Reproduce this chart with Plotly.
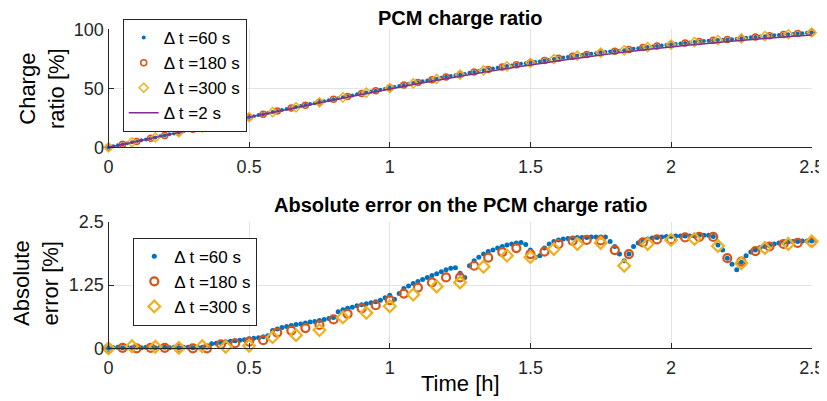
import plotly.graph_objects as go

# sample times (minutes -> hours) for each time step
t_60 = [m / 60 for m in range(0, 151)]
t_180 = [m / 60 for m in range(0, 151, 3)]
t_300 = [m / 60 for m in range(0, 151, 5)]

# reference solution (dt = 2 s), read every 0.1 h
t_ref = [0.0, 0.1, 0.2, 0.3, 0.4, 0.5, 0.6, 0.7, 0.8, 0.9, 1.0, 1.1, 1.2,
         1.3, 1.4, 1.5, 1.6, 1.7, 1.8, 1.9, 2.0, 2.1, 2.2, 2.3, 2.4, 2.5]
charge_ref = [0.0, 5.0, 10.1, 15.2, 20.3, 25.4, 30.4, 35.3, 40.1, 44.8, 49.4,
              53.8, 58.1, 62.2, 66.1, 69.8, 73.3, 76.6, 79.6, 82.4, 85.0,
              87.4, 89.6, 91.6, 93.4, 95.2]

# charge ratio [%]
charge_60 = [0.0, 0.8, 1.7, 2.5, 3.4, 4.2, 5.0, 5.9, 6.7, 7.6, 8.4, 9.3, 10.1,
             11.0, 11.8, 12.7, 13.5, 14.4, 15.2, 16.1, 16.9, 17.8, 18.7, 19.6,
             20.4, 21.3, 22.1, 23.0, 23.9, 24.7, 25.6, 26.4, 27.3, 28.1, 29.0,
             29.9, 30.8, 31.6, 32.5, 33.3, 34.1, 35.0, 35.8, 36.6, 37.4, 38.3,
             39.1, 39.9, 40.7, 41.6, 42.4, 43.2, 44.0, 44.9, 45.7, 46.5, 47.2,
             48.0, 48.8, 49.6, 50.5, 51.1, 52.0, 52.8, 53.6, 54.4, 55.1, 55.9,
             56.6, 57.4, 58.1, 58.9, 59.7, 60.4, 61.1, 61.6, 62.2, 63.2, 63.9,
             64.7, 65.4, 66.1, 66.7, 67.4, 68.1, 68.8, 69.4, 70.0, 70.7, 71.2,
             71.7, 72.2, 72.8, 73.5, 74.2, 74.8, 75.4, 76.0, 76.6, 77.1, 77.7,
             78.2, 78.8, 79.3, 79.8, 80.3, 80.8, 81.2, 81.6, 81.9, 82.3, 82.9,
             83.5, 84.0, 84.5, 85.0, 85.5, 85.9, 86.3, 86.8, 87.2, 87.6, 88.0,
             88.4, 88.8, 89.2, 89.6, 90.0, 90.4, 90.7, 90.9, 91.2, 91.4, 91.6,
             91.8, 92.3, 92.8, 93.2, 93.5, 93.9, 94.2, 94.5, 94.9, 95.2, 95.5,
             95.8, 96.1, 96.4, 96.7, 97.0, 97.3]
charge_180 = [0.0, 2.5, 5.0, 7.6, 10.1, 12.7, 15.2, 17.8, 20.4, 23.0, 25.5,
              28.1, 30.7, 33.2, 35.7, 38.2, 40.7, 43.1, 45.6, 48.0, 50.4, 52.7,
              55.0, 57.3, 59.5, 61.6, 63.8, 65.9, 68.0, 69.9, 71.7, 73.5, 75.4,
              77.1, 78.7, 80.2, 81.5, 82.9, 84.5, 85.9, 87.2, 88.4, 89.6, 90.7,
              91.4, 92.3, 93.5, 94.5, 95.5, 96.4, 97.3]
charge_300 = [0.0, 4.2, 8.4, 12.7, 16.9, 21.2, 25.5, 29.8, 33.9, 38.1, 42.3,
              46.3, 50.2, 54.1, 57.9, 61.5, 65.1, 68.6, 71.6, 74.7, 77.6, 80.2,
              82.2, 84.9, 87.1, 89.2, 90.9, 92.3, 94.2, 95.8, 97.3]

# absolute error [%]
err_60 = [0.00, 0.01, 0.02, 0.01, 0.02, 0.01, 0.02, 0.01, 0.02, 0.02, 0.01,
          0.02, 0.02, 0.01, 0.02, 0.01, 0.02, 0.02, 0.01, 0.02, 0.02, 0.02,
          0.09, 0.10, 0.11, 0.13, 0.14, 0.15, 0.16, 0.17, 0.19, 0.20, 0.21,
          0.23, 0.25, 0.35, 0.38, 0.41, 0.43, 0.45, 0.47, 0.48, 0.50, 0.52,
          0.53, 0.55, 0.57, 0.59, 0.61, 0.72, 0.76, 0.79, 0.81, 0.84, 0.86,
          0.88, 0.90, 0.92, 0.95, 1.00, 1.05, 0.97, 1.08, 1.18, 1.23, 1.28,
          1.32, 1.36, 1.40, 1.44, 1.47, 1.51, 1.55, 1.58, 1.59, 1.48, 1.40,
          1.63, 1.73, 1.80, 1.86, 1.91, 1.94, 1.98, 2.01, 2.04, 2.06, 2.08,
          2.09, 2.05, 1.94, 1.80, 1.83, 1.98, 2.06, 2.11, 2.14, 2.16, 2.17,
          2.18, 2.19, 2.19, 2.19, 2.20, 2.20, 2.20, 2.20, 2.11, 2.01, 1.86,
          1.73, 1.86, 2.01, 2.08, 2.12, 2.16, 2.18, 2.19, 2.20, 2.21, 2.21,
          2.22, 2.22, 2.22, 2.22, 2.22, 2.23, 2.23, 2.23, 2.21, 2.04, 1.94,
          1.78, 1.66, 1.55, 1.70, 1.83, 1.90, 1.94, 1.99, 2.01, 2.03, 2.06,
          2.08, 2.09, 2.10, 2.11, 2.11, 2.12, 2.12, 2.12]
err_180 = [0.00, 0.01, 0.00, 0.01, 0.01, 0.01, 0.00, 0.00, 0.08, 0.10, 0.13,
           0.16, 0.31, 0.35, 0.40, 0.46, 0.57, 0.68, 0.79, 0.85, 0.95, 1.08,
           1.20, 1.30, 1.40, 1.40, 1.63, 1.79, 1.90, 1.98, 1.86, 1.91, 2.06,
           2.12, 2.14, 2.13, 1.94, 1.86, 2.09, 2.15, 2.15, 2.19, 2.20, 2.20,
           1.78, 1.71, 1.92, 2.01, 2.06, 2.08, 2.10]
err_300 = [0.00, 0.04, 0.03, 0.01, 0.04, 0.03, 0.05, 0.22, 0.26, 0.36, 0.61,
           0.70, 0.83, 1.06, 1.22, 1.30, 1.61, 1.83, 1.80, 1.96, 2.06, 2.08,
           1.63, 2.06, 2.14, 2.16, 2.02, 1.68, 1.98, 2.06, 2.11]

x_ticks = [0, 0.5, 1, 1.5, 2, 2.5]
x_labels = ['0', '0.5', '1', '1.5', '2', '2.5']

FONT = 'Liberation Sans, Arial, Helvetica, sans-serif'
BLUE, ORANGE, YELLOW, PURPLE = '#0072BD', '#D95319', '#EDB120', '#7E2F8E'

# the page body has an 8px margin, so the figure is drawn 8px in from the
# window corner; size it to fill the rest of the 827x401 window
W, H, OFF = 827, 401, 8
FW, FH = W - OFF, H - OFF


def px(sx):
    return (sx - OFF) / FW


def py(sy):
    return (H - sy) / FH


fig = go.Figure()

# top panel
fig.add_trace(go.Scatter(x=t_60, y=charge_60, mode='markers', name='Δ t =60 s',
                         marker=dict(color=BLUE, size=4), cliponaxis=False,
                         xaxis='x', yaxis='y', legend='legend'))
fig.add_trace(go.Scatter(x=t_180, y=charge_180, mode='markers', name='Δ t =180 s',
                         marker=dict(color=ORANGE, size=6, symbol='circle-open',
                                     line=dict(width=1.5)),
                         cliponaxis=False, xaxis='x', yaxis='y', legend='legend'))
fig.add_trace(go.Scatter(x=t_300, y=charge_300, mode='markers', name='Δ t =300 s',
                         marker=dict(color=YELLOW, size=7, symbol='diamond-open',
                                     line=dict(width=1.5)),
                         cliponaxis=False, xaxis='x', yaxis='y', legend='legend'))
fig.add_trace(go.Scatter(x=t_ref, y=charge_ref, mode='lines', name='Δ t =2 s',
                         line=dict(color=PURPLE, width=1.5, shape='spline'),
                         xaxis='x', yaxis='y', legend='legend'))

# bottom panel
fig.add_trace(go.Scatter(x=t_60, y=err_60, mode='markers', name='Δ t =60 s',
                         marker=dict(color=BLUE, size=5), cliponaxis=False,
                         xaxis='x2', yaxis='y2', legend='legend2'))
fig.add_trace(go.Scatter(x=t_180, y=err_180, mode='markers', name='Δ t =180 s',
                         marker=dict(color=ORANGE, size=8, symbol='circle-open',
                                     line=dict(width=2.2)),
                         cliponaxis=False, xaxis='x2', yaxis='y2', legend='legend2'))
fig.add_trace(go.Scatter(x=t_300, y=err_300, mode='markers', name='Δ t =300 s',
                         marker=dict(color=YELLOW, size=9, symbol='diamond-open',
                                     line=dict(width=2.2)),
                         cliponaxis=False, xaxis='x2', yaxis='y2', legend='legend2'))

axis_style = dict(showline=True, linecolor='#262626', linewidth=1,
                  ticks='inside', ticklen=5, tickcolor='#262626',
                  showgrid=True, gridcolor='#e3e3e3', gridwidth=1,
                  zeroline=False, mirror=False, automargin=False,
                  tickfont=dict(family=FONT, size=18, color='#262626'))

x_dom = [px(108.5), px(811.7)]
legend_style = dict(xanchor='left', yanchor='top', bgcolor='white',
                    bordercolor='#262626', borderwidth=1,
                    font=dict(family=FONT, size=17, color='black'),
                    itemwidth=30, tracegroupgap=0)
fig.update_layout(
    template='none',
    width=FW, height=FH,
    margin=dict(l=0, r=0, t=0, b=0, autoexpand=False),
    paper_bgcolor='white', plot_bgcolor='white',
    font=dict(family=FONT, color='#262626'),
    xaxis=dict(axis_style, domain=x_dom, range=[0, 2.5], tickvals=x_ticks,
               ticktext=x_labels, anchor='y', ticklabelstandoff=3),
    yaxis=dict(axis_style, domain=[py(147.3), py(29.3)],
               range=[0, 100], tickvals=[0, 50, 100], anchor='x'),
    xaxis2=dict(axis_style, domain=x_dom, range=[0, 2.5], tickvals=x_ticks,
                ticktext=x_labels, anchor='y2', ticklabelstandoff=3),
    yaxis2=dict(axis_style, domain=[py(348.3), py(221.7)],
                range=[0, 2.5], tickvals=[0, 1.25, 2.5],
                ticktext=['0', '1.25', '2.5'], anchor='x2'),
    legend=dict(legend_style, x=px(122.7), y=py(19)),
    legend2=dict(legend_style, x=px(133.3), y=py(237.7)),
)

notes = [
    dict(text='<b>PCM charge ratio</b>', x=460, y=18, size=20, angle=0),
    dict(text='<b>Absolute error on the PCM charge ratio</b>', x=460, y=205,
         size=20, angle=0),
    dict(text='Time [h]', x=460, y=383, size=22, angle=0),
    dict(text='Charge<br>ratio [%]', x=42, y=89, size=22, angle=-90),
    dict(text='Absolute<br>error [%]', x=36, y=283, size=22, angle=-90),
]
for n in notes:
    fig.add_annotation(text=n['text'], x=px(n['x']), y=py(n['y']),
                       xref='paper', yref='paper',
                       xanchor='center', yanchor='middle', showarrow=False,
                       textangle=n['angle'],
                       font=dict(family=FONT, size=n['size'], color='black'))

fig.write_html('out.html')
